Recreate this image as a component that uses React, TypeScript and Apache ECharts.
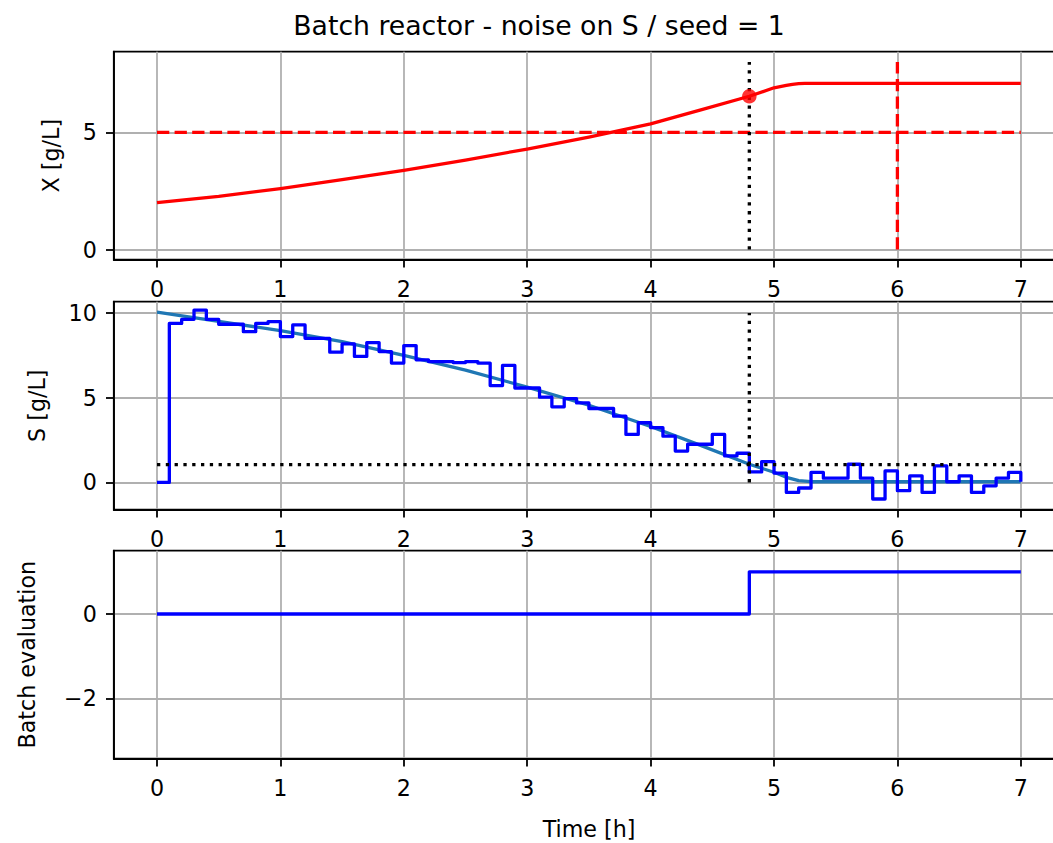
import React, { useEffect, useRef } from "react";
import * as echarts from "echarts";

const TITLE = "Batch reactor - noise on S / seed = 1";
const X_NAME = "X [g/L]";
const S_NAME = "S [g/L]";
const EVAL_NAME = "Batch evaluation";
const TIME_NAME = "Time [h]";

const TIME_TICKS = [0, 1, 2, 3, 4, 5, 6, 7];
const X_TICKS = [0, 5];
const S_TICKS = [0, 5, 10];
const EVAL_TICKS = [-2, 0];

// biomass (true)
const xTrueT = [0, 0.5, 1, 1.5, 2, 2.5, 3, 3.5, 4, 4.4, 4.8, 5.0, 5.1, 5.15, 5.2, 5.25, 7];
const xTrue = [2.0, 2.27, 2.6, 2.98, 3.38, 3.82, 4.29, 4.8, 5.36, 5.95, 6.54, 6.9, 7.0, 7.05, 7.08, 7.09, 7.09];

// substrate (true)
const sTrueT = [0, 0.5, 1, 1.5, 2, 2.5, 3, 3.5, 4, 4.4, 4.8, 5.0, 5.1, 5.2, 5.3, 7];
const sTrue = [10.05, 9.5, 8.95, 8.3, 7.5, 6.62, 5.62, 4.55, 3.3, 2.2, 1.07, 0.6, 0.3, 0.1, 0.04, 0.04];

// substrate (measured, sampled every 0.1 h)
const S_SAMPLE_DT = 0.1;
const sMeas = [
  0, 9.38, 9.62, 10.16, 9.62, 9.33, 9.33, 8.89, 9.38, 9.48,
  8.6, 9.29, 8.5, 8.5, 7.68, 8.17, 7.43, 8.25, 7.72, 7.04,
  8.07, 7.23, 7.13, 7.13, 7.07, 7.13, 7.04, 5.71, 6.9, 5.57,
  5.57, 5.03, 4.46, 4.94, 4.69, 4.36, 4.36, 3.91, 2.83, 3.52,
  3.23, 2.73, 1.85, 2.25, 2.25, 2.83, 1.56, 1.72, 0.62, 1.23,
  0.55, -0.59, -0.33, 0.59, 0.25, 0.25, 1.07, 0.25, -0.98, 0.68,
  -0.49, 0.39, -0.59, 0.97, 0.04, 0.39, -0.59, -0.2, 0.25, 0.59,
  0.04,
];

// batch evaluation
const evalT = [0, 4.8, 7];
const evalV = [0, 1, 1];

// reference lines
const T_START = 0;
const T_END = 7;
const X_LIMIT = 5;
const T_HARVEST = 6;
const T_DETECT = 4.8;
const X_VLINE_TOP = 8;
const S_THRESH = 1.05;
const S_VLINE_TOP = 10;
const DETECT_X = 6.54;

const FONT = "DejaVu Sans";
const LW = 3.3;
const DASHED = [12.3, 5.3];
const DOTTED = [3.3, 5.5];

const fmt = (v: number) => (v < 0 ? "\u2212" + Math.abs(v) : String(v));

const CHART_W = 1100;
const CHART_H = 843;
const GRID_LEFT = 113.8;
const GRID_W = 950.2;
const GRID_H = 208;
const GRID_TOPS = [51.7, 301.7, 550.7];
const X_MIN = -0.35;
const X_MAX = 7.35;

function mkX(gridIndex: number) {
  return {
    type: "value",
    gridIndex,
    min: X_MIN,
    max: X_MAX,
    position: "bottom",
    axisLine: { show: true, onZero: false, lineStyle: { color: "#000", width: 1.8 } },
    axisTick: {
      show: true,
      length: 7.8,
      customValues: TIME_TICKS,
      lineStyle: { color: "#000", width: 1.8 },
    },
    axisLabel: {
      customValues: TIME_TICKS,
      margin: 18.5,
      fontSize: 22.2,
      fontFamily: FONT,
      color: "#000",
      formatter: (v: number) => fmt(v),
    },
    splitLine: { show: true, lineStyle: { color: "#b0b0b0", width: 1.8 } },
  };
}

function mkY(gridIndex: number, min: number, max: number, ticks: number[]) {
  return {
    type: "value",
    gridIndex,
    min,
    max,
    axisLine: { show: true, onZero: false, lineStyle: { color: "#000", width: 1.8 } },
    axisTick: {
      show: true,
      length: 7.8,
      customValues: ticks,
      lineStyle: { color: "#000", width: 1.8 },
    },
    axisLabel: {
      customValues: ticks,
      margin: 17,
      fontSize: 22.2,
      fontFamily: FONT,
      color: "#000",
      formatter: (v: number) => fmt(v),
    },
    splitLine: { show: true, lineStyle: { color: "#b0b0b0", width: 1.8 } },
  };
}

function lineSeries(xi: number, data: number[][], color: string, type: any, z: number, step?: string) {
  return {
    type: "line",
    xAxisIndex: xi,
    yAxisIndex: xi,
    data,
    step: step || false,
    symbol: "none",
    showSymbol: false,
    silent: true,
    z,
    lineStyle: { color, width: LW, type, cap: "butt", join: "round" },
    itemStyle: { color },
  };
}

export default function App() {
  const ref = useRef<HTMLDivElement>(null);
  useEffect(() => {
    if (!ref.current) return;
    document.documentElement.style.overflow = "hidden";
    document.body.style.overflow = "hidden";
    const chart = echarts.init(ref.current, null, { renderer: "svg" });
    const option: any = {
      animation: false,
      backgroundColor: "#fff",
      grid: GRID_TOPS.map((top) => ({
        left: GRID_LEFT,
        top,
        width: GRID_W,
        height: GRID_H,
        show: true,
        borderColor: "#000",
        borderWidth: 1.8,
        backgroundColor: "transparent",
        containLabel: false,
        outerBoundsMode: "none",
      })),
      xAxis: [mkX(0), mkX(1), mkX(2)],
      yAxis: [
        mkY(0, -0.43, 8.44, X_TICKS),
        mkY(1, -1.61, 10.66, S_TICKS),
        mkY(2, -3.43, 1.5, EVAL_TICKS),
      ],
      series: [
        lineSeries(0, [[T_START, X_LIMIT], [T_END, X_LIMIT]], "#ff0000", DASHED, 3),
        lineSeries(0, [[T_HARVEST, 0], [T_HARVEST, X_VLINE_TOP]], "#ff0000", DASHED, 3),
        lineSeries(0, [[T_DETECT, 0], [T_DETECT, X_VLINE_TOP]], "#000000", DOTTED, 3),
        lineSeries(0, xTrueT.map((t, i) => [t, xTrue[i]]), "#ff0000", "solid", 4),
        {
          type: "scatter",
          xAxisIndex: 0,
          yAxisIndex: 0,
          data: [[T_DETECT, DETECT_X]],
          symbol: "circle",
          symbolSize: 14.5,
          itemStyle: { color: "#ff0000" },
          silent: true,
          z: 6,
        },
        lineSeries(1, sTrueT.map((t, i) => [t, sTrue[i]]), "#1f77b4", "solid", 3),
        lineSeries(
          1,
          sMeas.map((v, i) => [+(i * S_SAMPLE_DT).toFixed(1), v]),
          "#0000ff",
          "solid",
          4,
          "end"
        ),
        lineSeries(1, [[T_START, S_THRESH], [T_END, S_THRESH]], "#000000", DOTTED, 5),
        lineSeries(1, [[T_DETECT, 0], [T_DETECT, S_VLINE_TOP]], "#000000", DOTTED, 5),
        lineSeries(2, evalT.map((t, i) => [t, evalV[i]]), "#0000ff", "solid", 4, "end"),
      ],
      graphic: [
        {
          type: "text",
          x: 539,
          y: 25,
          style: {
            text: TITLE,
            fontSize: 26.7,
            fontFamily: FONT,
            fill: "#000",
            align: "center",
            verticalAlign: "middle",
            textAlign: "center",
            textVerticalAlign: "middle",
          },
        },
        ...[
          [X_NAME, 51, GRID_TOPS[0] + GRID_H / 2],
          [S_NAME, 37, GRID_TOPS[1] + GRID_H / 2],
          [EVAL_NAME, 27, GRID_TOPS[2] + GRID_H / 2],
        ].map(([text, x, y]) => ({
          type: "text",
          x,
          y,
          rotation: Math.PI / 2,
          style: {
            text,
            fontSize: 22.2,
            fontFamily: FONT,
            fill: "#000",
            align: "center",
            verticalAlign: "middle",
            textAlign: "center",
            textVerticalAlign: "middle",
          },
        })),
        {
          type: "text",
          x: 589,
          y: 829,
          style: {
            text: TIME_NAME,
            fontSize: 22.2,
            fontFamily: FONT,
            fill: "#000",
            align: "center",
            verticalAlign: "middle",
            textAlign: "center",
            textVerticalAlign: "middle",
          },
        },
      ],
    };
    chart.setOption(option);
    return () => chart.dispose();
  }, []);
  return (
    <div
      ref={ref}
      style={{ position: "absolute", left: 0, top: 0, width: CHART_W, height: CHART_H }}
    />
  );
}
